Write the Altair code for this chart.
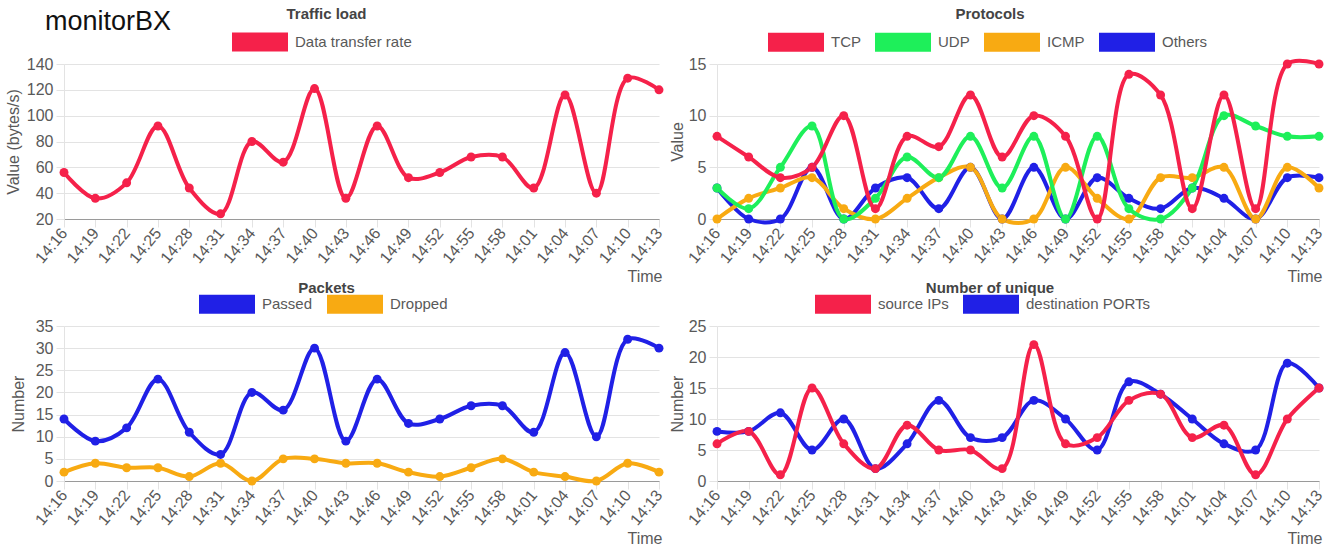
import altair as alt
import pandas as pd

FONT = "Liberation Sans, Helvetica, Arial, sans-serif"

times = ["14:16", "14:19", "14:22", "14:25", "14:28", "14:31", "14:34", "14:37", "14:40", "14:43",
         "14:46", "14:49", "14:52", "14:55", "14:58", "14:01", "14:04", "14:07", "14:10", "14:13"]

traffic = [56, 36, 48, 92, 44, 24, 80, 64, 121, 36, 92, 52, 56, 68, 68, 44, 116, 40, 129, 120]

tcp = [8, 6, 4, 5, 10, 1, 8, 7, 12, 6, 10, 8, 0, 14, 12, 1, 12, 1, 15, 15]
udp = [3, 1, 5, 9, 0, 2, 6, 4, 8, 3, 8, 0, 8, 1, 0, 3, 10, 9, 8, 8]
icmp = [0, 2, 3, 4, 1, 0, 2, 4, 5, 0, 0, 5, 2, 0, 4, 4, 5, 0, 5, 3]
others = [3, 0, 0, 5, 0, 3, 4, 1, 5, 0, 5, 0, 4, 2, 1, 3, 2, 0, 4, 4]

passed = [14, 9, 12, 23, 11, 6, 20, 16, 30, 9, 23, 13, 14, 17, 17, 11, 29, 10, 32, 30]
dropped = [2, 4, 3, 3, 1, 4, 0, 5, 5, 4, 4, 2, 1, 3, 5, 2, 1, 0, 4, 2]

src_ips = [6, 8, 1, 15, 6, 2, 9, 5, 5, 2, 22, 6, 7, 13, 14, 7, 9, 1, 10, 15]
dst_ports = [8, 8, 11, 5, 10, 2, 6, 13, 7, 7, 13, 10, 5, 16, 14, 10, 6, 5, 19, 15]

RED = "#f5214a"
GREEN = "#1eef5a"
ORANGE = "#f8aa12"
BLUE = "#2020e6"
GRID = "#e3e3e3"
LABEL = "#595959"
RECT = "M-1,-0.34L1,-0.34L1,0.34L-1,0.34Z"
H = 155


def long_df(names, series, colors):
    rows = []
    # reversed so that the first series is drawn on top
    for name, vals, col in reversed(list(zip(names, series, colors))):
        for i, (t, v) in enumerate(zip(times, vals)):
            rows.append({"Time": t, "idx": i, "series": name, "value": v, "col": col})
    return pd.DataFrame(rows)


def panel(title, names, series, colors, ytitle, ydomain, yticks, width, legend_x,
          title_dx, title_y, ytitle_x, brand=False):
    df = long_df(names, series, colors)
    cscale = alt.Scale(domain=names, range=colors)
    x = alt.X("Time:O", sort=times, scale=alt.Scale(type="point", padding=0),
              axis=alt.Axis(title="Time", labelAngle=-50, labelAlign="right", labelBaseline="middle",
                            tickSize=8, labelPadding=3, domainColor="#9a9a9a", labelOverlap=False,
                            titleX=width + 3, titleY=62, titleAlign="right", titleAnchor="end",
                            titleBaseline="alphabetic"))
    y = alt.Y("value:Q", scale=alt.Scale(domain=ydomain, nice=False, zero=False),
              axis=alt.Axis(values=yticks, title=ytitle, tickSize=8, labelPadding=3, domainColor=GRID,
                            titleX=ytitle_x, titleBaseline="middle"))
    base = alt.Chart(df).encode(x=x, y=y, order=alt.Order("idx:Q"))
    line = base.mark_line(interpolate="catmull-rom", strokeWidth=4).encode(
        stroke=alt.Stroke("col:N", scale=None), detail="series:N")
    pts = base.mark_circle(size=80, opacity=1).encode(
        color=alt.Color("series:N", scale=cscale,
                        legend=alt.Legend(orient="none", legendX=legend_x, legendY=-50,
                                          direction="horizontal", title=None, symbolType=RECT,
                                          symbolSize=3136, symbolStrokeWidth=0, symbolOpacity=1,
                                          labelFontSize=15, labelColor=LABEL, labelFont=FONT,
                                          labelOffset=7, columnPadding=14)))
    ttl = alt.Chart(pd.DataFrame({"label": [title]})).mark_text(
        fontSize=15, font=FONT, fontWeight="bold", color="#444", align="center", baseline="middle"
    ).encode(x=alt.value(width / 2 + title_dx), y=alt.value(title_y), text="label:N")
    layers = [line, pts, ttl]
    if brand:
        layers.append(alt.Chart(pd.DataFrame({"label": ["monitorBX"]})).mark_text(
            fontSize=27, font=FONT, align="left", baseline="alphabetic", color="#111"
        ).encode(x=alt.value(-19), y=alt.value(-34), text="label:N"))
    return alt.layer(*layers).properties(width=width, height=H)


p1 = panel("Traffic load", ["Data transfer rate"], [traffic], [RED], "Value (bytes/s)",
           [20, 140], [20, 40, 60, 80, 100, 120, 140], 595, 168, -35, -50, -51, brand=True)
p2 = panel("Protocols", ["TCP", "UDP", "ICMP", "Others"], [tcp, udp, icmp, others],
           [RED, GREEN, ORANGE, BLUE], "Value", [0, 15], [0, 5, 10, 15], 602, 51, -28, -50, -40)
p3 = panel("Packets", ["Passed", "Dropped"], [passed, dropped], [BLUE, ORANGE], "Number",
           [0, 35], [0, 5, 10, 15, 20, 25, 30, 35], 595, 135, -35, -38, -46)
p4 = panel("Number of unique", ["source IPs", "destination PORTs"], [src_ips, dst_ports],
           [RED, BLUE], "Number", [0, 25], [0, 5, 10, 15, 20, 25], 602, 98, -28, -38, -40)

chart = alt.concat(p1, p2, p3, p4, columns=2, bounds="flush",
                   spacing={"row": 107, "column": 58}).resolve_scale(
    color="independent"
).properties(padding={"left": 5, "top": 7, "right": 5, "bottom": 5}).configure_view(
    stroke=None
).configure_axis(
    gridColor=GRID, tickColor=GRID, labelFont=FONT, titleFont=FONT, labelColor=LABEL,
    titleColor=LABEL, labelFontSize=16, titleFontSize=16, titleFontWeight="normal"
)

chart.save("out.html", embed_options={"renderer": "svg", "actions": False})
